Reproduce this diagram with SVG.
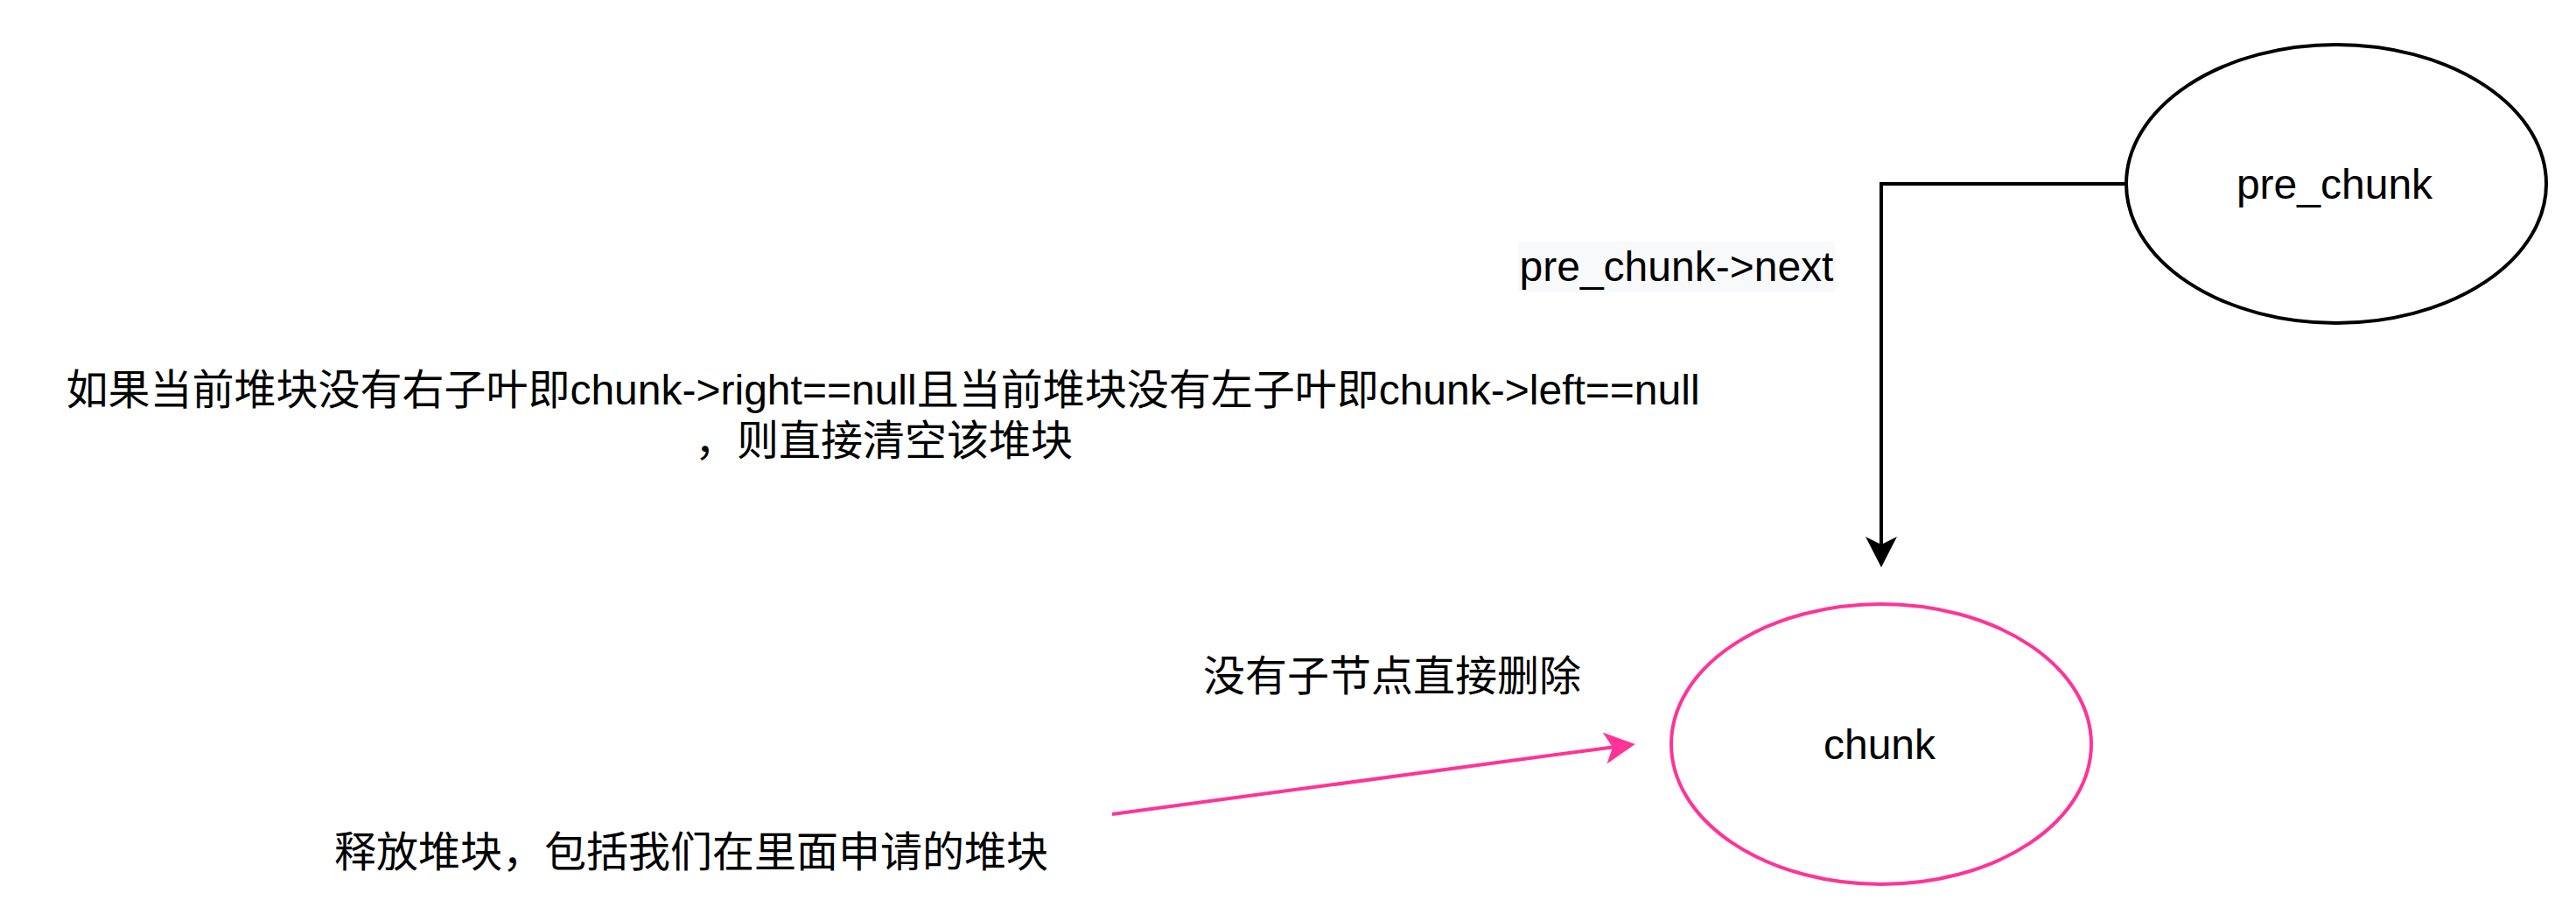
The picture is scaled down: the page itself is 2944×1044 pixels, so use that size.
<svg xmlns="http://www.w3.org/2000/svg" width="2944" height="1044" viewBox="0 0 2944 1044">
<style>
  text { font-family: "Liberation Sans", "Noto Sans CJK SC", sans-serif; font-size: 48px; fill: #000000; }
  .node-black { fill: #FFFFFF; stroke: #000000; stroke-width: 4; }
  .node-pink { fill: #FFFFFF; stroke: #FF3399; stroke-width: 4; }
  .edge-black { fill: none; stroke: #000000; stroke-width: 4; }
  .edge-pink { fill: none; stroke: #FF3399; stroke-width: 4; }
</style>
<defs>
  <marker id="arrowBlack" markerUnits="userSpaceOnUse" viewBox="0 0 36 38" markerWidth="36" markerHeight="38" refX="9" refY="19" orient="auto">
    <path d="M35,19 L0,1 L9,19 L0,37 Z" fill="#000000"/>
  </marker>
  <marker id="arrowPink" markerUnits="userSpaceOnUse" viewBox="0 0 36 38" markerWidth="36" markerHeight="38" refX="9" refY="19" orient="auto">
    <path d="M35,19 L0,1 L9,19 L0,37 Z" fill="#FF3399"/>
  </marker>
</defs>
<rect x="0" y="0" width="2944" height="1044" fill="#FFFFFF"/>

<g id="connectors">
  <path class="edge-black" d="M2430,210 L2150,210 L2150,622" marker-end="url(#arrowBlack)"/>
  <path class="edge-pink" d="M1271,930 L1843,853.4" marker-end="url(#arrowPink)"/>
</g>

<g id="pre_chunk">
  <ellipse class="node-black" cx="2670" cy="210" rx="240" ry="159"/>
  <text x="2668" y="227" text-anchor="middle">pre_chunk</text>
</g>

<g id="chunk">
  <ellipse class="node-pink" cx="2150" cy="850" rx="240" ry="160"/>
  <text x="2148" y="867" text-anchor="middle">chunk</text>
</g>

<g id="label-next">
  <rect x="1735" y="276" width="362" height="58" fill="#F8F9FA"/>
  <text x="1916" y="321" text-anchor="middle">pre_chunk-&gt;next</text>
</g>

<g id="note-condition">
  <text x="1009" y="462" text-anchor="middle">如果当前堆块没有右子叶即chunk-&gt;right==null且当前堆块没有左子叶即chunk-&gt;left==null</text>
  <text x="1010" y="520" text-anchor="middle">，则直接清空该堆块</text>
</g>

<g id="note-delete">
  <text x="1591" y="789" text-anchor="middle">没有子节点直接删除</text>
</g>

<g id="note-free">
  <text x="790" y="990" text-anchor="middle">释放堆块，包括我们在里面申请的堆块</text>
</g>
</svg>
